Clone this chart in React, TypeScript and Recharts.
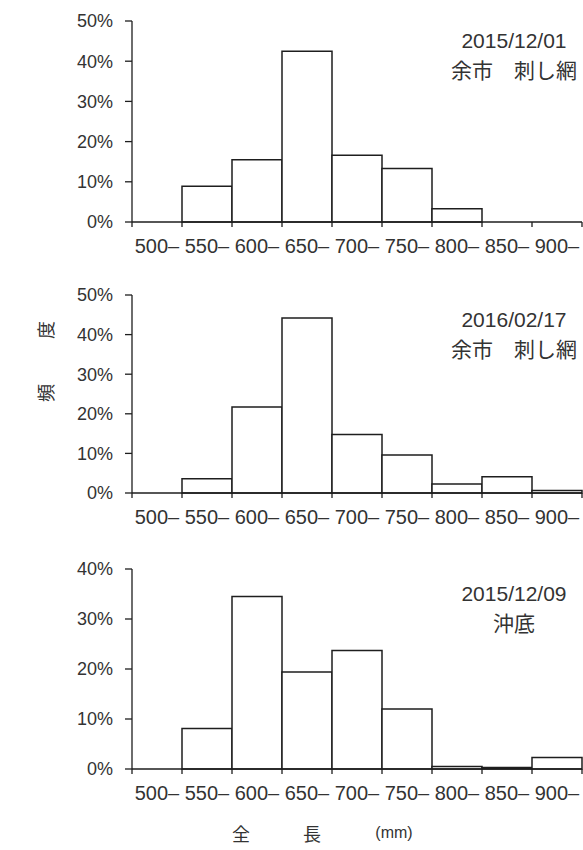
import React, { FC } from 'react'
import { BarChart, Bar, XAxis, YAxis } from 'recharts'

// bin lower edges (mm)
const binLabels = ['500–', '550–', '600–', '650–', '700–', '750–', '800–', '850–', '900–']

// frequency (%) per bin
const freqYoichi1201 = [0, 8.9, 15.5, 42.5, 16.6, 13.3, 3.3, 0, 0]
const freqYoichi0217 = [0, 3.6, 21.7, 44.2, 14.8, 9.6, 2.3, 4.1, 0.6]
const freqOkisoko1209 = [0, 8.1, 34.5, 19.4, 23.7, 12.0, 0.5, 0.3, 2.3]

const yTicksTo50 = [0, 10, 20, 30, 40, 50]
const yTicksTo40 = [0, 10, 20, 30, 40]

const FONT = '"Liberation Sans", "Noto Sans CJK JP", sans-serif'
const INK = '#1e1e1e'
const TEXT = '#333'
const W = 583
const H = 280
const Y_AXIS_W = 132
const RIGHT = 1
const X_AXIS_H = 30
// labels sit in the middle of each bin, tick marks on the bin edges
const HALF_BIN = (W - Y_AXIS_W - RIGHT) / binLabels.length / 2

const BinTick = (props: any) => {
  const { x, y, payload } = props
  const label = binLabels[payload.value]
  if (!label) return null
  return (
    <text x={x + HALF_BIN} y={y + 17} dy="0.35em" textAnchor="middle" fontSize={20} fill={TEXT} fontFamily={FONT}>
      {label}
    </text>
  )
}

type HistProps = {
  values: number[]
  yTicks: number[]
  top: number
  plotTop: number
  plotBottom: number
  caption: string[]
  captionTop: number
}

const Histogram: FC<HistProps> = ({ values, yTicks, top, plotTop, plotBottom, caption, captionTop }) => {
  const rows = binLabels.map((label, i) => ({ label, edge: i, freq: values[i] }))
  const edges = binLabels.map((_, i) => i).concat(binLabels.length)
  return (
    <div style={{ position: 'absolute', left: 0, top, width: W, height: H }}>
      <BarChart
        width={W}
        height={H}
        data={rows}
        margin={{ top: plotTop, right: RIGHT, left: 0, bottom: H - plotBottom - X_AXIS_H }}
        barCategoryGap={0}
        barGap={0}
      >
        <XAxis xAxisId="bin" dataKey="label" hide height={0} />
        <XAxis
          xAxisId="edge"
          type="number"
          dataKey="edge"
          domain={[0, binLabels.length]}
          ticks={edges}
          interval={0}
          height={X_AXIS_H}
          tickSize={5}
          stroke={INK}
          strokeWidth={1.3}
          tick={<BinTick />}
        />
        <YAxis
          width={Y_AXIS_W}
          domain={[0, yTicks[yTicks.length - 1]]}
          ticks={yTicks}
          interval={0}
          tickFormatter={(v: number) => `${v}%`}
          tickSize={7}
          tickMargin={12}
          stroke={INK}
          strokeWidth={1.3}
          tick={{ fill: TEXT, fontSize: 18, fontFamily: FONT }}
        />
        <Bar xAxisId="bin" dataKey="freq" fill="#fff" stroke={INK} strokeWidth={1.5} isAnimationActive={false} />
      </BarChart>
      <div
        style={{
          position: 'absolute',
          left: 432,
          top: captionTop,
          width: 164,
          textAlign: 'center',
          fontSize: 21,
          lineHeight: '30px',
          color: TEXT,
          fontFamily: FONT,
        }}
      >
        {caption.map((c) => (
          <div key={c}>{c}</div>
        ))}
      </div>
    </div>
  )
}

const App: FC = () => {
  return (
    <div style={{ position: 'absolute', left: 0, top: 0, width: W, height: 850, background: '#fff', fontFamily: FONT }}>
      <Histogram
        values={freqYoichi1201}
        yTicks={yTicksTo50}
        top={0}
        plotTop={21}
        plotBottom={222}
        caption={['2015/12/01', '余市　刺し網']}
        captionTop={26}
      />
      <Histogram
        values={freqYoichi0217}
        yTicks={yTicksTo50}
        top={270}
        plotTop={25}
        plotBottom={223}
        caption={['2016/02/17', '余市　刺し網']}
        captionTop={35}
      />
      <Histogram
        values={freqOkisoko1209}
        yTicks={yTicksTo40}
        top={540}
        plotTop={29}
        plotBottom={229}
        caption={['2015/12/09', '沖底']}
        captionTop={39}
      />
      <div
        style={{
          position: 'absolute',
          left: 45,
          top: 360,
          transform: 'translate(-50%, -50%) rotate(-90deg)',
          whiteSpace: 'nowrap',
          fontSize: 18,
          letterSpacing: 3,
          color: TEXT,
        }}
      >
        頻　　度
      </div>
      {[
        { t: '全', x: 241 },
        { t: '長', x: 312 },
        { t: '(mm)', x: 394 },
      ].map((s) => (
        <div
          key={s.t}
          style={{
            position: 'absolute',
            left: s.x,
            top: 833,
            transform: 'translate(-50%, -50%)',
            fontSize: s.t === '(mm)' ? 16 : 18,
            color: TEXT,
            whiteSpace: 'nowrap',
          }}
        >
          {s.t}
        </div>
      ))}
    </div>
  )
}

export default App
